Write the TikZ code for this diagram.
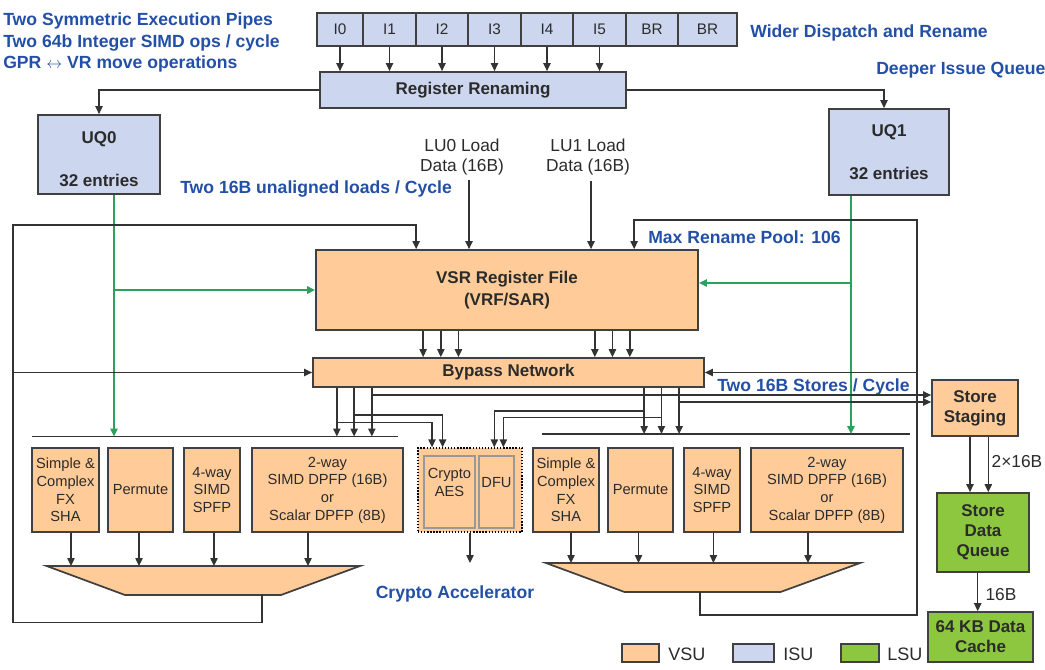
\documentclass[tikz,border=0pt]{standalone}
\usepackage{fontspec}
\setmainfont{Liberation Sans}
\usetikzlibrary{arrows.meta,calc}
\definecolor{vsu}{HTML}{FFCC99}
\definecolor{isu}{HTML}{CCD6EE}
\definecolor{lsu}{HTML}{8DC63F}
\definecolor{blu}{HTML}{2350A6}
\definecolor{grn}{HTML}{2FA05C}
\definecolor{ln}{HTML}{333333}
\definecolor{bd}{HTML}{404040}
\definecolor{txt}{HTML}{2B2B2B}
\begin{document}
\begin{tikzpicture}[x=0.75pt,y=-0.75pt,
  ubox/.style={draw=bd,line width=1.3pt,inner sep=0pt,align=center,text=txt},
  sz/.style 2 args={minimum width=#1*0.75pt,minimum height=#2*0.75pt},
  vs/.style={ubox,fill=vsu},
  is/.style={ubox,fill=isu},
  ls/.style={ubox,fill=lsu},
  bt/.style={font=\fontsize{12.75}{15}\selectfont\bfseries},
  ut/.style={font=\fontsize{11}{13.3}\selectfont},
  dt/.style={font=\fontsize{11.5}{14}\selectfont},
  lt/.style={font=\fontsize{13}{15}\selectfont,text=txt,inner sep=0pt,align=center},
  note/.style={font=\fontsize{13.2}{16}\selectfont\bfseries,text=blu,inner sep=0pt,anchor=west},
  arr/.style={draw=ln,line width=1pt,-{Triangle[length=6pt,width=5.5pt]}},
  garr/.style={draw=grn,line width=1.3pt,-{Triangle[length=6pt,width=5.5pt]}},
  wire/.style={draw=ln,line width=1pt},
  bar/.style={draw=ln,line width=1.3pt},
  trap/.style={draw=bd,line width=1.3pt,fill=vsu},
  inner/.style={draw=black!40,line width=1.8pt,fill=vsu,inner sep=0pt,align=center,text=txt,font=\fontsize{11}{13.3}\selectfont},
]
\useasboundingbox (0,0) rectangle (1045,670);

% ---------- notes ----------
\node[note] (n1) at (3,20.5) {Two Symmetric Execution Pipes};
\node[note] (n2) at (3,42.5) {Two 64b Integer SIMD ops / cycle};
\node[note] (n3) at (3,63.5) {GPR $\leftrightarrow$ VR move operations};
\node[note] (n4) at (750,32.5) {Wider Dispatch and Rename};
\node[note] (n5) at (876,70.5) {Deeper Issue Queue};
\node[note] (n6) at (180,188.5) {Two 16B unaligned loads / Cycle};
\node[note] (n7) at (648,237.5) {Max Rename Pool: 106};
\node[note] (n8) at (717,386.5) {Two 16B Stores / Cycle};
\node[note,anchor=center] (n9) at (455,593.5) {Crypto Accelerator};

% ---------- dispatch ----------
\node[is,dt,sz={46}{33}] (i0) at (340,29.5) {I0};
\node[is,dt,sz={53}{33}] (i1) at (389.5,29.5) {I1};
\node[is,dt,sz={52}{33}] (i2) at (442,29.5) {I2};
\node[is,dt,sz={53}{33}] (i3) at (494.5,29.5) {I3};
\node[is,dt,sz={52}{33}] (i4) at (547,29.5) {I4};
\node[is,dt,sz={53}{33}] (i5) at (599.5,29.5) {I5};
\node[is,dt,sz={52}{33}] (br1) at (652,29.5) {BR};
\node[is,dt,sz={59}{33}] (br2) at (707.5,29.5) {BR};

\node[is,bt,sz={306}{36}] (ren) at (473,90) {Register Renaming};
\node[is,bt,sz={122}{79}] (uq0) at (99,154.5) {\rule{0pt}{16pt}UQ0\\[17pt]32 entries};
\node[is,bt,sz={120}{86}] (uq1) at (889,152) {UQ1\\[17pt]32 entries};

\node[lt] (lu0) at (462,157) {LU0 Load\\Data (16B)};
\node[lt] (lu1) at (588,157) {LU1 Load\\Data (16B)};

\node[vs,bt,sz={382}{80}] (vsr) at (507,290) {VSR Register File\\[2pt](VRF/SAR)};
\node[vs,bt,sz={391}{29}] (byp) at (508.5,372.5) {Bypass Network};

% ---------- execution units ----------
\node[vs,ut,sz={67}{84}] (u1) at (65.5,490) {Simple \&\\Complex\\FX\\SHA};
\node[vs,ut,sz={65}{84}] (u2) at (140.5,490) {Permute};
\node[vs,ut,sz={56}{84}] (u3) at (212,490) {4-way\\SIMD\\SPFP};
\node[vs,ut,sz={151}{84}] (u4) at (327.5,490) {2-way\\SIMD DPFP (16B)\\or\\Scalar DPFP (8B)};

\node[vs,ut,sz={66}{84}] (r1) at (566,490) {Simple \&\\Complex\\FX\\SHA};
\node[vs,ut,sz={65}{84}] (r2) at (640.5,490) {Permute};
\node[vs,ut,sz={56}{84}] (r3) at (712,490) {4-way\\SIMD\\SPFP};
\node[vs,ut,sz={152}{84}] (r4) at (827,490) {2-way\\SIMD DPFP (16B)\\or\\Scalar DPFP (8B)};

\node[draw=black,line width=1pt,dash pattern=on 1pt off 1.3pt,fill=vsu,sz={104}{84},inner sep=0pt] (cr) at (470,490) {};
\node[inner,sz={51}{72}] (aes) at (449.5,492) {Crypto\\AES\\[1.5pt]};
\node[inner,sz={35}{72}] (dfu) at (496.5,492) {DFU\\[1.5pt]};

% ---------- trapezoids ----------
\coordinate (lt1) at (46.7,566); \coordinate (lt2) at (360,566);
\coordinate (lt3) at (281,595); \coordinate (lt4) at (125,595);
\draw[trap] (lt1) -- (lt2) -- (lt3) -- (lt4) -- cycle;
\coordinate (rt1) at (546,563); \coordinate (rt2) at (860,563);
\coordinate (rt3) at (780.5,592); \coordinate (rt4) at (624.5,592);
\draw[trap] (rt1) -- (rt2) -- (rt3) -- (rt4) -- cycle;

% ---------- issue bars ----------
\coordinate (lb1) at (32,436.5); \coordinate (lb2) at (398,436.5);
\coordinate (rb1) at (542,434); \coordinate (rb2) at (910,434);
\draw[bar] (lb1) -- (lb2);
\draw[bar] (rb1) -- (rb2);

% ---------- LSU side ----------
\node[vs,bt,sz={86}{56}] (ss) at (975,408) {Store\\Staging};
\node[ls,bt,sz={92}{79}] (sdq) at (983,532.5) {Store\\Data\\Queue};
\node[ls,bt,sz={105}{50}] (cache) at (980.5,637) {64 KB Data\\Cache};
\node[lt] (l2x) at (1017,462) {2×16B};
\node[lt] (l16) at (1001,595) {16B};

% ---------- legend ----------
\node[vs,sz={37}{18.7}] (kv) at (640.5,653) {};
\node[lt,anchor=west,font=\fontsize{13.5}{15}\selectfont] (kvt) at (668,654) {VSU};
\node[is,sz={41}{18.7}] (ki) at (753.5,653) {};
\node[lt,anchor=west,font=\fontsize{13.5}{15}\selectfont] (kit) at (783,654) {ISU};
\node[ls,sz={38}{18.7}] (kl) at (860,653) {};
\node[lt,anchor=west,font=\fontsize{13.5}{15}\selectfont] (klt) at (887,654) {LSU};

% ---------- dispatch connectors ----------
\foreach \n in {i0,i1,i2,i3,i4,i5}
  \draw[arr] (\n.south) -- (\n.south |- ren.north);
\coordinate (uq1in) at ($(uq1.north)+(-5,0)$);
\draw[arr] (ren.west) -| (uq0.north);
\draw[arr] (ren.east) -| (uq1in);

% loads
\coordinate (lu0a) at (469,180);
\coordinate (lu1a) at (591,181);
\draw[arr] (lu0a) -- (lu0a |- vsr.north);
\draw[arr] (lu1a) -- (lu1a |- vsr.north);

% green issue lines
\coordinate (g0) at ($(uq0.south)+(15,0)$);
\draw[garr] (g0) -- (g0 |- lb1);
\draw[garr] (g0 |- vsr.west) -- (vsr.west);
\coordinate (g1) at ($(uq1.south)+(-38,0)$);
\coordinate (vr) at ($(vsr.east)+(0,-7)$);
\draw[garr] (g1) -- (g1 |- rb1);
\draw[garr] (g1 |- vr) -- (vr);

% VSR -> bypass
\foreach \d [count=\k] in {108,125.7,143.3,279.7,297.3,314.7}
  \coordinate (v\k) at ($(vsr.south west)+(\d,0)$);
\foreach \k in {1,...,6}
  \draw[arr] (v\k) -- (v\k |- byp.north);

% bypass -> issue bars
\foreach \d [count=\k] in {24.7,42,59.7,332,349.3,367}
  \coordinate (b\k) at ($(byp.south west)+(\d,0)$);
\foreach \k in {1,2,3}
  \draw[arr] (b\k) -- (b\k |- lb1);
\foreach \k in {4,5,6}
  \draw[arr] (b\k) -- (b\k |- rb1);

% bypass -> store staging
\coordinate (ssa) at ($(ss.west)+(0,-13)$);
\coordinate (ssb) at ($(ss.west)+(0,-6)$);
\draw[arr] (b3 |- ssa) -- (ssa);
\draw[arr] (b6 |- ssb) -- (ssb);

% bypass -> crypto
\coordinate (ca1) at ($(cr.north west)+(14.7,0)$);
\coordinate (ca2) at ($(cr.north west)+(25.3,0)$);
\coordinate (ca3) at ($(cr.north west)+(77,0)$);
\coordinate (ca4) at ($(cr.north west)+(86,0)$);
\coordinate (h1) at ($(b1)+(0,34.7)$);
\coordinate (h2) at ($(b2)+(0,27)$);
\coordinate (h4) at ($(b4)+(0,23)$);
\coordinate (h5) at ($(b5)+(0,29.7)$);
\draw[arr] (h1) -| (ca1);
\draw[arr] (h2) -| (ca2);
\draw[arr] (h4) -| (ca3);
\draw[arr] (h5) -| (ca4);
\coordinate (cend) at (470,563);
\draw[arr] (cr.south) -- (cend);

% units -> trapezoids
\foreach \u/\d in {u1/5.5,u2/-1.5,u3/2,u4/-19.5}{
  \coordinate (a\u) at ($(\u.south)+(\d,0)$);
  \draw[arr] (a\u) -- (a\u |- lt1);
}
\foreach \u/\d in {r1/5,r2/-2,r3/1.4,r4/-19}{
  \coordinate (a\u) at ($(\u.south)+(\d,0)$);
  \draw[arr] (a\u) -- (a\u |- rt1);
}

% feedback loops
\coordinate (lout) at (262,595);
\coordinate (lcorner) at (13,622.7);
\coordinate (ltopc) at (13,225);
\coordinate (vin1) at ($(vsr.north west)+(101,0)$);
\draw[arr] (lout) |- (lcorner) -- (ltopc) -| (vin1);
\draw[arr] (ltopc |- byp.west) -- (byp.west);

\coordinate (rout) at (700,592);
\coordinate (rcorner) at (917,615);
\coordinate (rtopc) at (917,220);
\coordinate (vin2) at ($(vsr.north west)+(319,0)$);
\draw[arr] (rout) |- (rcorner) -- (rtopc) -| (vin2);
\draw[arr] (rtopc |- byp.east) -- (byp.east);

% store path
\coordinate (s1) at ($(ss.south)+(-5,0)$);
\coordinate (s2) at ($(ss.south)+(13.3,0)$);
\coordinate (s3) at ($(sdq.south)+(-5.3,0)$);
\draw[arr] (s1) -- (s1 |- sdq.north);
\draw[arr] (s2) -- (s2 |- sdq.north);
\draw[arr] (s3) -- (s3 |- cache.north);
\end{tikzpicture}
\end{document}
